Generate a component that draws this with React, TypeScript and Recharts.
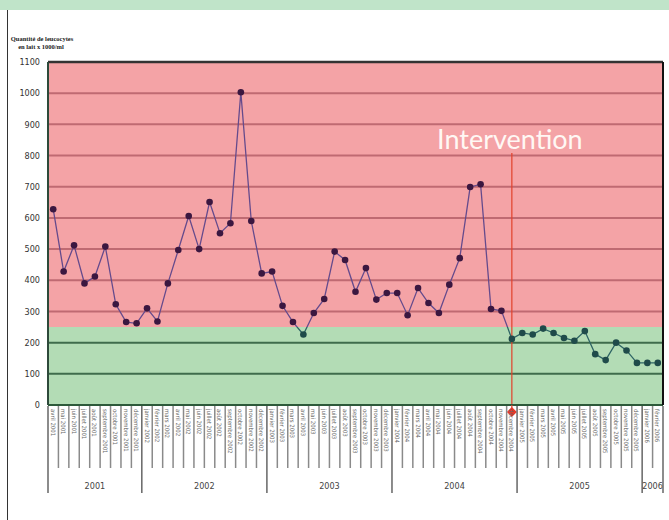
import {
  ComposedChart,
  Line,
  XAxis,
  YAxis,
  ReferenceArea,
  ReferenceLine,
  ReferenceDot,
} from "recharts";

// monthly milk samples, April 2001 -> February 2006
const PERIODS = [
  "avril 2001", "mai 2001", "juin 2001", "juillet 2001", "août 2001", "septembre 2001",
  "octobre 2001", "novembre 2001", "décembre 2001",
  "janvier 2002", "février 2002", "mars 2002", "avril 2002", "mai 2002", "juin 2002",
  "juillet 2002", "août 2002", "septembre 2002", "octobre 2002", "novembre 2002", "décembre 2002",
  "janvier 2003", "février 2003", "mars 2003", "avril 2003", "mai 2003", "juin 2003",
  "juillet 2003", "août 2003", "septembre 2003", "octobre 2003", "novembre 2003", "décembre 2003",
  "janvier 2004", "février 2004", "mars 2004", "avril 2004", "mai 2004", "juin 2004",
  "juillet 2004", "août 2004", "septembre 2004", "octobre 2004", "novembre 2004", "décembre 2004",
  "janvier 2005", "février 2005", "mars 2005", "avril 2005", "mai 2005", "juin 2005",
  "juillet 2005", "août 2005", "septembre 2005", "octobre 2005", "novembre 2005", "décembre 2005",
  "janvier 2006", "février 2006",
];

const LEUCOCYTES = [
  628, 428, 512, 390, 412, 508, 323, 266, 262,
  310, 268, 390, 497, 606, 500, 651, 551, 583, 1003, 590, 422,
  428, 318, 266, 226, 295, 340, 492, 465, 363, 439, 338, 359,
  359, 288, 375, 327, 295, 386, 471, 699, 708, 308, 302, 212,
  231, 226, 245, 231, 215, 206, 237, 163, 144, 200, 175, 135,
  135, 135,
];

const Y_TICKS = [0, 100, 200, 300, 400, 500, 600, 700, 800, 900, 1000, 1100];
const LIMIT = 250;
const INTERVENTION = "décembre 2004";

const data = PERIODS.map((p, i) => ({ period: p, value: LEUCOCYTES[i] }));

const W = 669;
const H = 520;
const M = { top: 62, right: 0, bottom: 0, left: 0 };
const Y_W = 48;
const R_W = 6;
const X_H = 115;
const BAND = (W - Y_W - R_W) / PERIODS.length;

const NARROW = "'Liberation Sans Narrow', 'DejaVu Sans Condensed', 'Liberation Sans', sans-serif";

function MonthTick(props: any) {
  const { x, y, payload } = props;
  const i = PERIODS.indexOf(payload.value);
  const [month, year] = payload.value.split(" ");
  const left = x - BAND / 2;
  const yearStart = i === 0 || month === "janvier";
  const last = i === PERIODS.length - 1;
  let yearLabel = null;
  if (yearStart) {
    const n = PERIODS.filter((p) => p.endsWith(year)).length;
    yearLabel = (
      <text x={left + (n * BAND) / 2} y={y + 84} textAnchor="middle" fontSize={9} fill="#444" fontFamily={NARROW}>
        {year}
      </text>
    );
  }
  return (
    <g>
      <line x1={left} y1={y + 1} x2={left} y2={y + (yearStart ? 88 : 63)} stroke={yearStart ? "#666" : "#8a8a8a"} strokeWidth={1.5} />
      {last && <line x1={x + BAND / 2} y1={y + 1} x2={x + BAND / 2} y2={y + 88} stroke="#666" strokeWidth={1.5} />}
      <text transform={`translate(${x - 2.5},${y + 4}) rotate(90)`} fontSize={6} fill="#666" fontFamily={NARROW}>
        {payload.value}
      </text>
      {yearLabel}
    </g>
  );
}

function Dot(props: any) {
  const { cx, cy, payload, index } = props;
  const fill = payload.value < LIMIT ? "#1f4b4a" : "#3b1740";
  return <circle key={index} cx={cx} cy={cy} r={3.3} fill={fill} />;
}

export default function App() {
  return (
    <div style={{ position: "absolute", left: 0, top: 0, width: W, height: H, background: "#fff", overflow: "hidden" }}>
      <div style={{ position: "absolute", left: 0, top: 0, width: W, height: 10, background: "#c0e4c9" }} />
      <div style={{ position: "absolute", left: 7, top: 10, width: 1, height: H - 10, background: "#333" }} />
      <svg style={{ position: "absolute", left: 0, top: 0 }} width={120} height={60}>
        <text x={42} y={41} textAnchor="middle" fontSize={6.5} fontWeight="bold" fontFamily="'Liberation Serif', serif" fill="#222">
          Quantité de leucocytes
        </text>
        <text x={41} y={49} textAnchor="middle" fontSize={6.5} fontWeight="bold" fontFamily="'Liberation Serif', serif" fill="#222">
          en lait x 1000/ml
        </text>
      </svg>
      <div style={{ position: "absolute", left: 0, top: 0 }}>
        <ComposedChart width={W} height={H} data={data} margin={M}>
          <defs>
            <linearGradient id="lineZone" gradientUnits="userSpaceOnUse" x1={0} y1={62} x2={0} y2={405}>
              <stop offset="0%" stopColor="#654a8c" />
              <stop offset={`${((1100 - LIMIT) / 1100) * 100}%`} stopColor="#654a8c" />
              <stop offset={`${((1100 - LIMIT) / 1100) * 100}%`} stopColor="#2e6464" />
              <stop offset="100%" stopColor="#2e6464" />
            </linearGradient>
          </defs>
          <XAxis
            dataKey="period"
            scale="band"
            interval={0}
            height={X_H}
            tickLine={false}
            tickSize={0}
            tickMargin={0}
            axisLine={{ stroke: "#2d5a3a", strokeWidth: 2 }}
            tick={<MonthTick />}
          />
          <YAxis
            domain={[0, 1100]}
            ticks={Y_TICKS}
            width={Y_W}
            tickLine={false}
            tickSize={0}
            tickMargin={8}
            axisLine={{ stroke: "#2d4a3a", strokeWidth: 2 }}
            tick={{ fontSize: 9, fill: "#333", fontFamily: NARROW }}
          />
          <YAxis yAxisId="r" orientation="right" width={R_W} domain={[0, 1100]} tick={false} tickLine={false} axisLine={{ stroke: "#111", strokeWidth: 2 }} />
          <ReferenceArea y1={LIMIT} y2={1100} fill="#f4a3a6" fillOpacity={1} stroke="none" />
          <ReferenceArea y1={0} y2={LIMIT} fill="#b3dcb5" fillOpacity={1} stroke="none" />
          {Y_TICKS.filter((t) => t > 0 && t < 1100).map((t) => (
            <ReferenceLine key={t} y={t} stroke={t > LIMIT ? "#bf6a72" : "#3f6c4c"} strokeWidth={2} />
          ))}
          <ReferenceLine y={1100} stroke="#333" strokeWidth={2.5} />
          <ReferenceLine
            segment={[
              { x: INTERVENTION, y: 808 },
              { x: INTERVENTION, y: 0 },
            ]}
            stroke="#e2412c"
            strokeWidth={1.2}
          />
          <ReferenceDot
            x={INTERVENTION}
            y={0}
            ifOverflow="visible"
            shape={(p: any) => (
              <g>
                <line x1={p.cx} y1={p.cy} x2={p.cx} y2={p.cy + 6} stroke="#e2412c" strokeWidth={1.2} />
                <path d={`M${p.cx},${p.cy + 2} L${p.cx + 5},${p.cy + 7} L${p.cx},${p.cy + 12} L${p.cx - 5},${p.cy + 7} Z`} fill="#e8392a" />
              </g>
            )}
          />
          <ReferenceDot
            x={INTERVENTION}
            y={820}
            ifOverflow="visible"
            shape={(p: any) => (
              <text x={p.cx - 2} y={p.cy} textAnchor="middle" fontSize={27} fill="#fff8f4" fontFamily="Lato, 'Liberation Sans', sans-serif">
                Intervention
              </text>
            )}
          />
          <Line
            type="linear"
            dataKey="value"
            stroke="url(#lineZone)"
            strokeWidth={1.3}
            dot={<Dot />}
            activeDot={false}
            isAnimationActive={false}
          />
        </ComposedChart>
      </div>
    </div>
  );
}
